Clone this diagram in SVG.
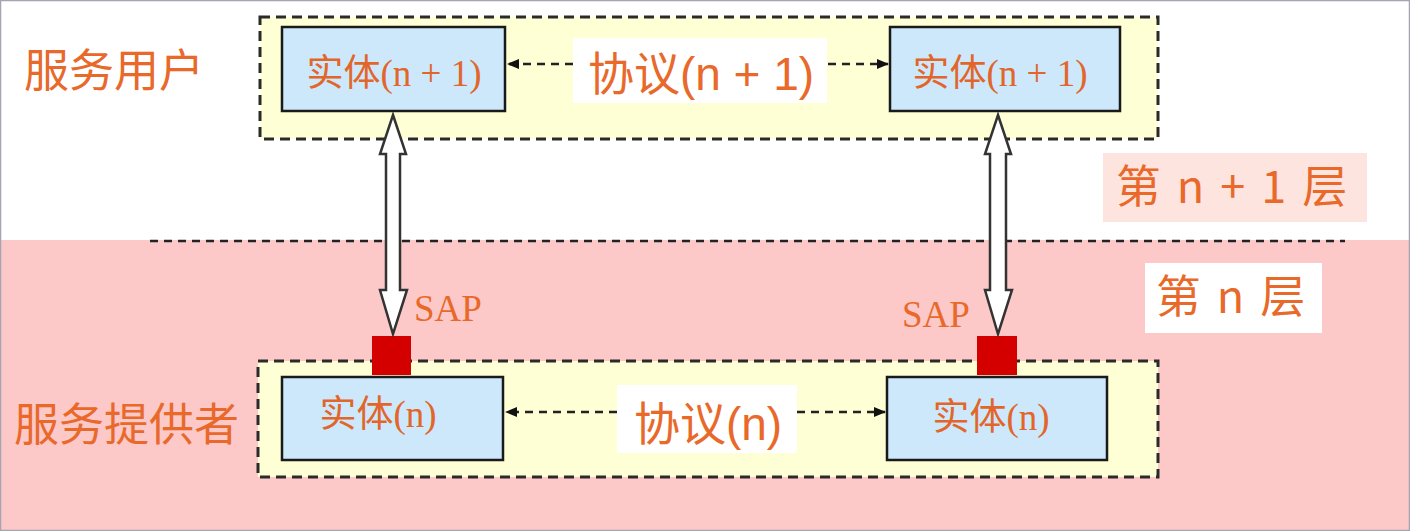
<svg xmlns="http://www.w3.org/2000/svg" width="1410" height="531" viewBox="0 0 1410 531">
<defs>
<style>
.cont{fill:#ffffd6;stroke:#2a2a2a;stroke-width:3;stroke-dasharray:10 6}
.ent{fill:#cce8fa;stroke:#1a1a1a;stroke-width:2.5}
.etxt{font-family:"Liberation Serif","Noto Sans CJK SC",serif;font-size:37px;fill:#e2662a;text-anchor:middle}
.ptxt{font-family:"Liberation Sans","Noto Sans CJK SC",sans-serif;font-size:46px;fill:#e8692a;text-anchor:middle}
.ltxt{font-family:"Noto Sans CJK SC",sans-serif;font-size:45px;fill:#e8692a}
.sap{font-family:"Liberation Serif",serif;font-size:37px;fill:#e8692a}
.dash{stroke:#222;stroke-width:2.5;stroke-dasharray:8 6;fill:none}
.dbl{fill:#fff;stroke:#333;stroke-width:2.5;stroke-linejoin:miter}
.red{fill:#d40000}
</style>
<marker id="ah" viewBox="0 0 10 10" refX="9" refY="5" markerWidth="5" markerHeight="5" orient="auto-start-reverse">
<path d="M0,1 L10,5 L0,9 z" fill="#111"/>
</marker>
</defs>
<rect x="0" y="0" width="1410" height="531" fill="#ffffff"/>
<rect x="0" y="240" width="1410" height="291" fill="#fcc8c8"/>
<rect x="0.5" y="0.5" width="1409" height="530" fill="none" stroke="#a4a4b4" stroke-width="1.5"/>
<line x1="150" y1="241" x2="1345" y2="241" class="dash" stroke-width="3" stroke-dasharray="10 6"/>

<g id="layer-n1-label">
<rect x="1103" y="153" width="264" height="69" fill="#fde4de"/>
<text x="1233" y="203" class="ltxt" text-anchor="middle" font-size="40" letter-spacing="3">第 n + 1 层</text>
</g>
<g id="layer-n-label">
<rect x="1145" y="263" width="177" height="70" fill="#ffffff"/>
<text x="1232" y="313" class="ltxt" text-anchor="middle" font-size="40" letter-spacing="3">第 n 层</text>
</g>
<g id="user-label"><text x="24" y="87" class="ltxt">服务用户</text></g>
<g id="provider-label"><text x="14" y="441" class="ltxt">服务提供者</text></g>

<g id="top-container"><rect x="260" y="17" width="898" height="122" class="cont"/></g>
<g id="bottom-container"><rect x="258" y="361" width="900" height="116" class="cont"/></g>

<g id="entity-top-left"><rect x="282" y="27" width="223" height="84" class="ent"/><text x="394" y="86" class="etxt">实体(n + 1)</text></g>
<g id="entity-top-right"><rect x="890" y="27" width="230" height="84" class="ent"/><text x="1000" y="86" class="etxt">实体(n + 1)</text></g>
<g id="entity-bottom-left"><rect x="282" y="377" width="221" height="83" class="ent"/><text x="378" y="427" class="etxt">实体(n)</text></g>
<g id="entity-bottom-right"><rect x="887" y="377" width="220" height="83" class="ent"/><text x="991" y="430" class="etxt">实体(n)</text></g>

<g id="protocol-top"><rect x="573" y="38" width="254" height="65" fill="#ffffff"/><text x="701" y="90" class="ptxt">协议(n + 1)</text></g>
<g id="protocol-bottom"><rect x="617" y="385" width="180" height="68" fill="#ffffff"/><text x="708" y="440" class="ptxt">协议(n)</text></g>

<g id="sap-left"><rect x="372" y="336" width="39" height="39" class="red"/><text x="414" y="321" class="sap">SAP</text></g>
<g id="sap-right"><rect x="977" y="336" width="40" height="39" class="red"/><text x="902" y="327" class="sap">SAP</text></g>

<g id="connectors">
<line x1="573" y1="64" x2="508" y2="64" class="dash" marker-end="url(#ah)"/>
<line x1="828" y1="64" x2="888" y2="64" class="dash" marker-end="url(#ah)"/>
<line x1="617" y1="412" x2="506" y2="412" class="dash" marker-end="url(#ah)"/>
<line x1="797" y1="412" x2="885" y2="412" class="dash" marker-end="url(#ah)"/>
<path class="dbl" d="M393,115 L406,154 L400,154 L400,290 L407,290 L393,334 L380,290 L386,290 L386,154 L380,154 Z"/>
<path class="dbl" d="M998,115 L1011,154 L1006,154 L1006,290 L1012,290 L998,334 L985,290 L990,290 L990,154 L985,154 Z"/>
</g>
</svg>
